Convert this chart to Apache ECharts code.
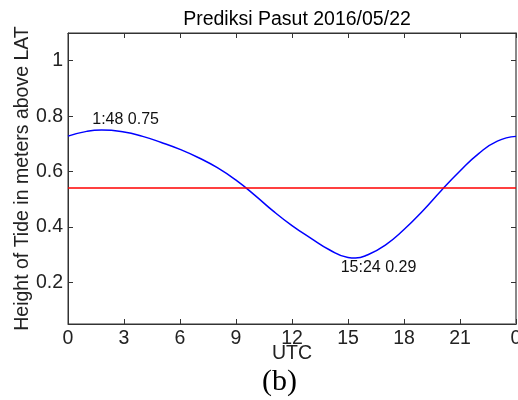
<!DOCTYPE html>
<html>
<head>
<meta charset="utf-8">
<script src="https://cdn.jsdelivr.net/npm/echarts@6/dist/echarts.min.js"></script>
<style>
  html, body { margin: 0; padding: 0; background: #fff; }
  #chart { width: 518px; height: 400px; }
</style>
</head>
<body>
<div id="chart"></div>
<script>
  // waktu (jam UTC) dan tinggi pasut (m di atas LAT)
  var hours = [0, 1, 1.8, 3, 4, 5, 6, 7, 8, 9, 10, 11, 12, 13, 14, 15, 15.4, 16, 17, 18, 19, 20, 21, 22, 23, 24];
  var tide = [0.728, 0.745, 0.75, 0.743, 0.727, 0.705, 0.68, 0.65, 0.614, 0.569, 0.515, 0.457, 0.405, 0.36, 0.318, 0.29, 0.288, 0.298, 0.335, 0.391, 0.458, 0.532, 0.602, 0.665, 0.71, 0.727];
  var mslLevel = 0.541;
  var xTicks = [0, 3, 6, 9, 12, 15, 18, 21, 24];
  var yTicks = [0.2, 0.4, 0.6, 0.8, 1];
  var noteTimes = [1.8, 15.4];
  var noteValues = [0.75, 0.288];
  var noteTexts = ['1:48 0.75', '15:24 0.29'];

  var chart = echarts.init(document.getElementById('chart'));

  var font = 'Liberation Sans, Arial, sans-serif';
  var tidePts = hours.map(function (h, i) { return [h, tide[i]]; });
  var mslPts = [[xTicks[0], mslLevel], [xTicks[xTicks.length - 1], mslLevel]];
  var offsets = [[24, -10], [23, 10]];

  var option = {
    animation: false,
    title: {
      text: 'Prediksi Pasut 2016/05/22',
      left: 292, top: 5, textAlign: 'center',
      textStyle: { fontFamily: font, fontSize: 19.5, fontWeight: 'normal', color: '#000' }
    },
    grid: {
      left: 68, right: 2, top: 33, bottom: 76,
      show: true, borderColor: '#333', borderWidth: 1, backgroundColor: 'transparent',
      containLabel: false, outerBoundsMode: 'none'
    },
    xAxis: [{
      type: 'value', min: 0, max: 24, interval: 3,
      name: 'UTC', nameLocation: 'middle', nameGap: 20, nameMoveOverlap: false,
      nameTextStyle: { fontFamily: font, fontSize: 19.5, color: '#222' },
      axisLine: { show: true, onZero: false, lineStyle: { color: '#333', width: 1 } },
      axisTick: { show: true, inside: true, length: 5, lineStyle: { color: '#333' } },
      axisLabel: {
        fontFamily: font, fontSize: 19.5, color: '#222', margin: 5,
        showMinLabel: true, showMaxLabel: true,
        formatter: function (v) { return String(v % 24); }
      },
      splitLine: { show: false }
    }, {
      type: 'value', min: 0, max: 24, interval: 3, position: 'top',
      axisLine: { show: true, onZero: false, lineStyle: { color: '#333', width: 1 } },
      axisTick: { show: true, inside: true, length: 5, lineStyle: { color: '#333' } },
      axisLabel: { show: false },
      splitLine: { show: false }
    }],
    yAxis: [{
      type: 'value', min: 0.05, max: 1.1,
      name: 'Height of Tide in meters above LAT', nameLocation: 'middle', nameGap: 35, nameMoveOverlap: false,
      nameTextStyle: { fontFamily: font, fontSize: 19.5, color: '#222' },
      axisLine: { show: true, onZero: false, lineStyle: { color: '#333', width: 1 } },
      axisTick: { show: true, inside: true, length: 5, customValues: yTicks, lineStyle: { color: '#333' } },
      axisLabel: { fontFamily: font, fontSize: 19.5, color: '#222', margin: 5, customValues: yTicks },
      splitLine: { show: false }
    }, {
      type: 'value', min: 0.05, max: 1.1, position: 'right',
      axisLine: { show: true, onZero: false, lineStyle: { color: '#888', width: 2 } },
      axisTick: { show: true, inside: true, length: 5, customValues: yTicks, lineStyle: { color: '#333' } },
      axisLabel: { show: false },
      splitLine: { show: false }
    }],
    series: [{
      name: 'tide',
      type: 'line',
      data: tidePts,
      smooth: 0.5,
      symbol: 'none',
      lineStyle: { color: '#0000ff', width: 1.5 },
      markPoint: {
        symbol: 'circle', symbolSize: 0,
        data: noteTexts.map(function (t, i) {
          return {
            coord: [noteTimes[i], noteValues[i]],
            label: {
              show: true, position: 'inside', offset: offsets[i],
              formatter: t, fontFamily: font, fontSize: 16, color: '#111'
            }
          };
        })
      }
    }, {
      name: 'msl',
      type: 'line',
      data: mslPts,
      symbol: 'none',
      lineStyle: { color: '#ff0000', width: 1.5 }
    }],
    graphic: [{
      type: 'text', left: 262, top: 367,
      style: { text: '(b)', font: '30px "Liberation Serif", "Times New Roman", serif', fill: '#000' }
    }]
  };

  chart.setOption(option);
</script>
</body>
</html>
